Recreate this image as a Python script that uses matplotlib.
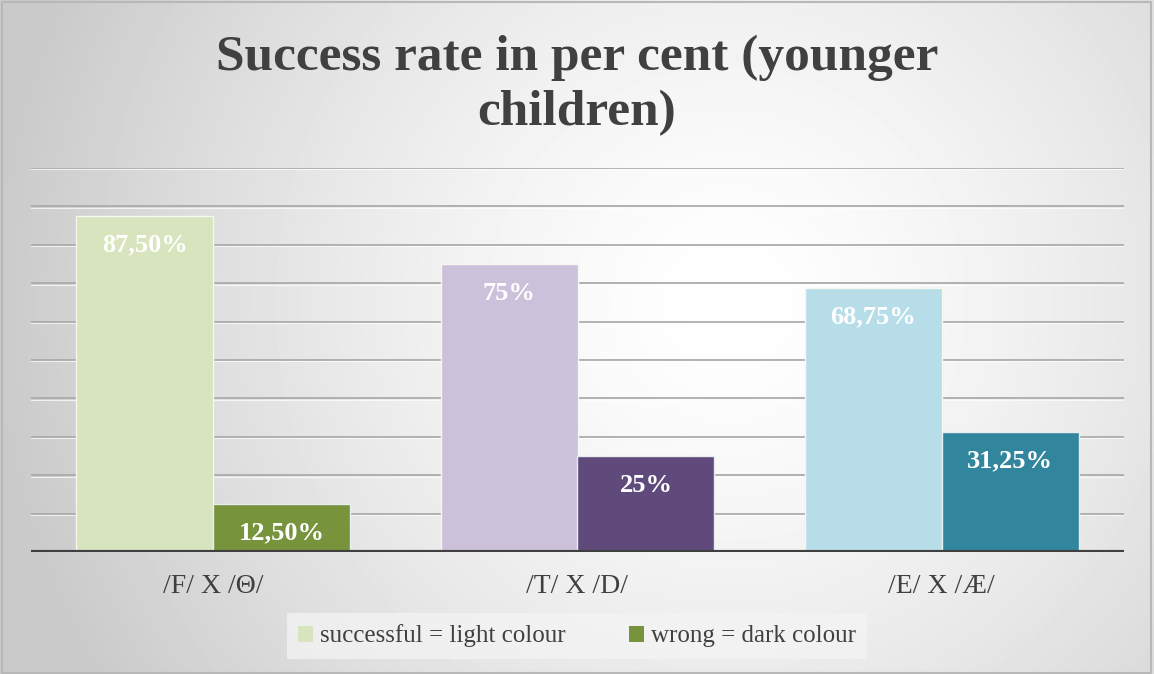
import numpy as np
import matplotlib
matplotlib.use("Agg")
import matplotlib.pyplot as plt
from matplotlib.patches import Patch

# data
categories = ["/F/ X /Θ/", "/T/ X /D/", "/E/ X /Æ/"]
successful = [87.5, 75.0, 68.75]
wrong = [12.5, 25.0, 31.25]
successful_labels = ["87,50%", "75%", "68,75%"]
wrong_labels = ["12,50%", "25%", "31,25%"]

light_cols = ["#d7e4bd", "#ccc1da", "#b7dee8"]
dark_cols = ["#77933c", "#604a7b", "#31859c"]

SERIF = ["Liberation Serif", "DejaVu Serif"]
plt.rcParams["font.family"] = SERIF

W, H = 1154, 674
fig = plt.figure(figsize=(W / 100, H / 100), dpi=100)

# radial gradient background
bg = fig.add_axes([0, 0, 1, 1], zorder=-10)
yy, xx = np.mgrid[0:H, 0:W]
cx, cy = 0.63 * W, 0.45 * H
r = np.sqrt(((xx - cx) / (0.64 * W)) ** 2 + ((yy - cy) / (0.64 * W)) ** 2)
r = np.clip(r, 0, 1)
val = 1.0 - 0.21 * r ** 1.4
bg.imshow(val, cmap="gray", vmin=0, vmax=1, aspect="auto", extent=[0, 1, 0, 1])
bg.set_xlim(0, 1)
bg.set_ylim(0, 1)
bg.axis("off")
# thin frame of the chart area
bg.plot([0.002, 0.002, 0.997, 0.997, 0.002], [0.002, 0.997, 0.997, 0.002, 0.002],
        color="#b8b8b8", lw=1.5)

ax = fig.add_axes([31 / W, 1 - 552 / H, (1124 - 31) / W, (552 - 168) / H])
ax.patch.set_alpha(0)

x = np.arange(len(categories))
bw = 0.376
bars1 = ax.bar(x - bw / 2, successful, bw, color=light_cols, edgecolor="#f4f8ee",
               linewidth=1.0, zorder=3)
bars2 = ax.bar(x + bw / 2, wrong, bw, color=dark_cols, edgecolor="#e8eef0",
               linewidth=1.0, zorder=3)

for bars, labels in ((bars1, successful_labels), (bars2, wrong_labels)):
    for b, lab in zip(bars, labels):
        ax.annotate(lab, (b.get_x() + b.get_width() / 2, b.get_height()),
                    xytext=(0, -21), textcoords="offset points", ha="center",
                    va="center", color="white", fontsize=19, fontweight="bold",
                    zorder=4)

ax.set_xlim(-0.5, 2.5)
ax.set_ylim(0, 100)
for g in range(10, 101, 10):
    ax.axhline(g, color="#ababab", lw=1.3, zorder=1)
    ax.axhline(g - 0.35, color="#ffffff", lw=0.8, alpha=0.7, zorder=1)
ax.axhline(0, color="#404040", lw=3, zorder=5)

for s in ax.spines.values():
    s.set_visible(False)
ax.set_yticks([])
ax.set_xticks(x)
ax.set_xticklabels(categories, fontsize=20, color="#404040")
ax.tick_params(axis="x", length=0, pad=16)

fig.text(0.5, 1 - 58 / H, "Success rate in per cent (younger", ha="center",
         va="center", fontsize=37, fontweight="bold", color="#404040")
fig.text(0.5, 1 - 113 / H, "children)", ha="center", va="center",
         fontsize=37, fontweight="bold", color="#404040")

handles = [Patch(facecolor=light_cols[0], edgecolor="none", label="successful = light colour"),
           Patch(facecolor=dark_cols[0], edgecolor="none", label="wrong = dark colour")]
leg = fig.legend(handles=handles, loc="center", bbox_to_anchor=(577 / W, 1 - 636 / H),
                 ncol=2, frameon=True, fontsize=18, handlelength=0.6,
                 handleheight=0.6, handletextpad=0.3, columnspacing=2.5,
                 borderpad=0.45, labelcolor="#404040")
leg.get_frame().set_facecolor("#f4f4f4")
leg.get_frame().set_alpha(0.75)
leg.get_frame().set_edgecolor("none")
leg.get_frame().set_boxstyle("square", pad=0)

fig.savefig("out.png", dpi=100)
